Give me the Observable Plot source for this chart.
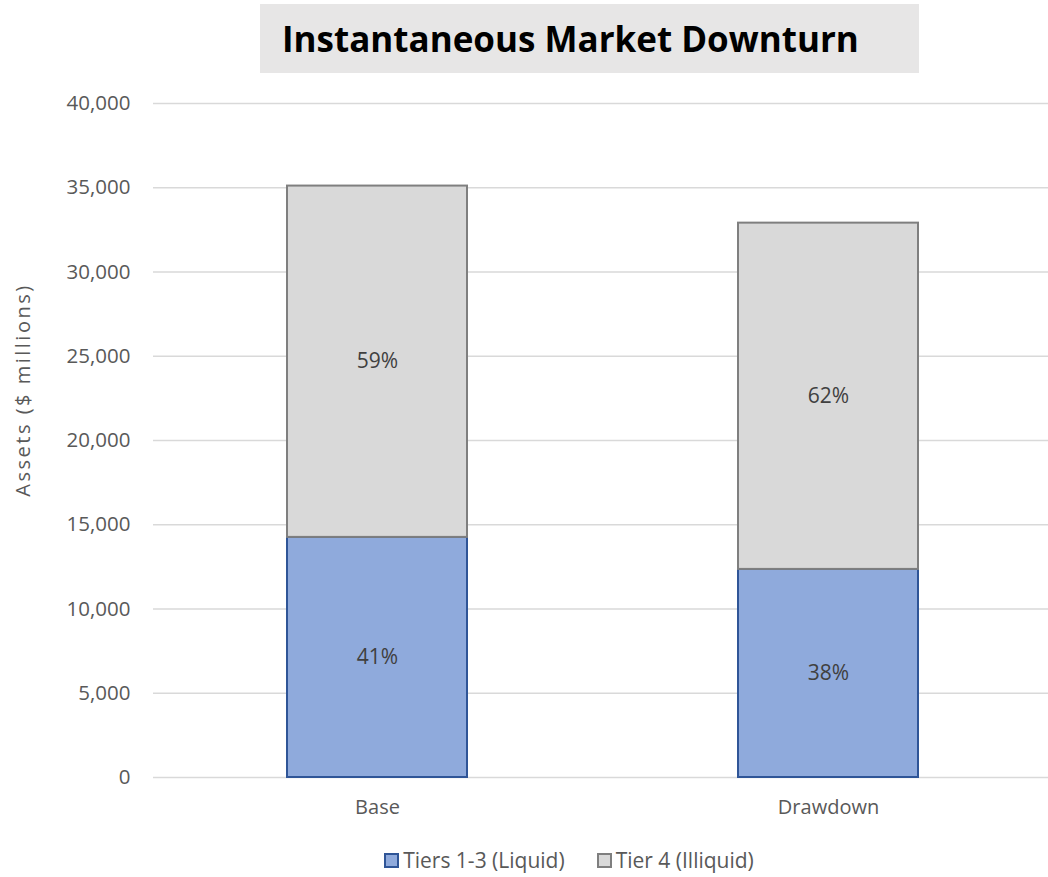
<!DOCTYPE html>
<html>
<head>
<meta charset="utf-8">
<script src="https://cdn.jsdelivr.net/npm/d3@7"></script>
<script src="https://cdn.jsdelivr.net/npm/@observablehq/plot@0.6"></script>
<style>
  html, body { margin: 0; padding: 0; background: #fff; }
  #wrap { position: relative; width: 1048px; height: 877px; overflow: hidden; font-family: "Open Sans", sans-serif; }
  #title { position: absolute; left: 260px; top: 4px; width: 659px; height: 69px; background: #e7e6e6;
           font-family: "Open Sans", sans-serif; font-weight: 700; font-size: 35px; line-height: 69px;
           padding-left: 22px; box-sizing: border-box; color: #000; white-space: nowrap; }
  #chart { position: absolute; left: 0; top: 73px; }
  #ylabel { position: absolute; left: 22px; top: 390px; transform: translate(-50%, -50%) rotate(-90deg);
            white-space: nowrap; font-size: 20px; letter-spacing: 2.5px; color: #595959; }
  #legend { position: absolute; left: 0; width: 1048px; top: 846px; height: 28px; display: flex; justify-content: center;
            align-items: center; gap: 32px; font-size: 21px; color: #595959; padding-left: 90px; box-sizing: border-box; }
  .item { display: flex; align-items: center; }
  .sw { width: 11px; height: 11px; border: 2px solid; margin-right: 4px; }
</style>
</head>
<body>
<div id="wrap">
  <div id="title">Instantaneous Market Downturn</div>
  <div id="chart"></div>
  <div id="ylabel">Assets ($ millions)</div>
  <div id="legend"></div>
</div>
<script>
const categories = ["Base", "Drawdown"];
const tiers = ["Tiers 1-3 (Liquid)", "Tier 4 (Illiquid)"];
const liquid = [14250, 12350];
const illiquid = [20850, 20550];
const yTicks = [0, 5000, 10000, 15000, 20000, 25000, 30000, 35000, 40000];
const fills = ["#8faadc", "#d9d9d9"];
const strokes = ["#2f5597", "#7f7f7f"];

const rows = [];
categories.forEach((c, i) => {
  const total = liquid[i] + illiquid[i];
  rows.push({cat: c, tier: tiers[0], value: liquid[i], y1: 0, y2: liquid[i], share: liquid[i] / total});
  rows.push({cat: c, tier: tiers[1], value: illiquid[i], y1: liquid[i], y2: total, share: illiquid[i] / total});
});

const chart = Plot.plot({
  width: 1048,
  height: 760,
  marginLeft: 153,
  marginRight: 0,
  marginTop: 30,
  marginBottom: 56,
  style: {fontFamily: "'Open Sans', sans-serif", fontSize: "20px", color: "#595959", background: "transparent", overflow: "visible"},
  x: {domain: categories, range: [151.7, 1054.3], paddingInner: 0.6, paddingOuter: 0.3, label: null},
  y: {domain: [0, 40000], label: null},
  marks: [
    Plot.ruleY(yTicks, {stroke: "#d9d9d9", strokeWidth: 1.5}),
    Plot.axisY({ticks: yTicks, tickSize: 0, tickPadding: 23, tickFormat: d3.format(","), label: null, fill: "#595959", fontSize: 20.5}),
    Plot.axisX({tickSize: 0, tickPadding: 22, label: null, fill: "#595959", fontSize: 20}),
    Plot.barY(rows.filter(d => d.tier === tiers[0]), {x: "cat", y1: "y1", y2: "y2", fill: fills[0], stroke: strokes[0], strokeWidth: 2}),
    Plot.barY(rows.filter(d => d.tier === tiers[1]), {x: "cat", y1: "y1", y2: "y2", fill: fills[1], stroke: strokes[1], strokeWidth: 2}),
    Plot.text(rows, {x: "cat", y: d => (d.y1 + d.y2) / 2, text: d => d3.format(".0%")(d.share), fill: "#404040", fontSize: 21})
  ]
});
document.getElementById("chart").appendChild(chart);

const legend = document.getElementById("legend");
tiers.forEach((t, i) => {
  const item = document.createElement("div");
  item.className = "item";
  const sw = document.createElement("span");
  sw.className = "sw";
  sw.style.background = fills[i];
  sw.style.borderColor = strokes[i];
  item.appendChild(sw);
  const lab = document.createElement("span");
  lab.textContent = t;
  item.appendChild(lab);
  legend.appendChild(item);
});
</script>
</body>
</html>
